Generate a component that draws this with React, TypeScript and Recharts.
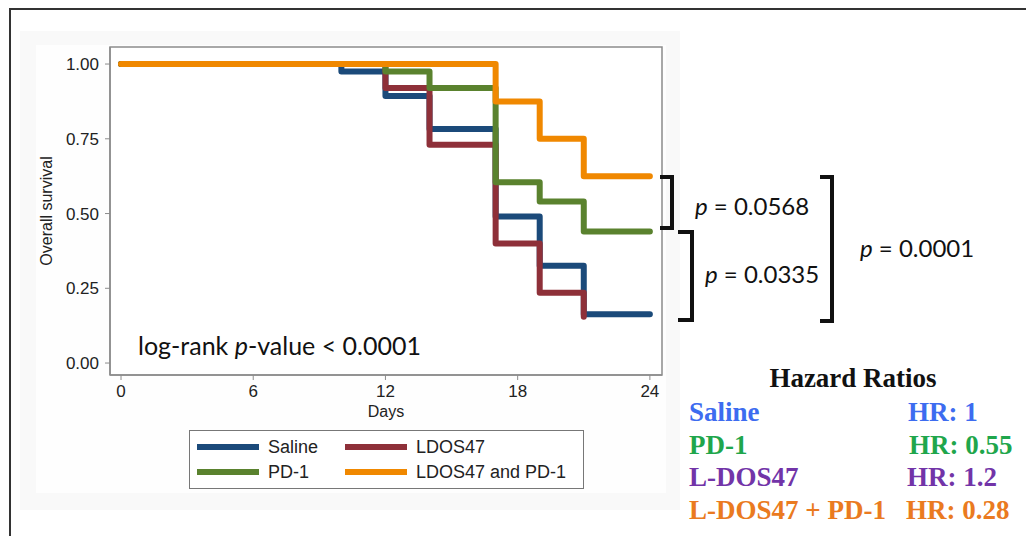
import React from "react";
import { LineChart, Line, XAxis, YAxis, ReferenceArea } from "recharts";

// ---- data (Kaplan-Meier step estimates) ----
const salineDays = [0, 10, 12, 14, 17, 19, 21, 24];
const salineSurv = [1, 0.975, 0.893, 0.783, 0.49, 0.325, 0.163, 0.163];
const ldosDays = [0, 12, 14, 17, 19, 21];
const ldosSurv = [1, 0.92, 0.73, 0.4, 0.235, 0.155];
const pd1Days = [0, 12, 14, 17, 19, 21, 24];
const pd1Surv = [1, 0.975, 0.92, 0.605, 0.54, 0.44, 0.44];
const comboDays = [0, 17, 19, 21, 24];
const comboSurv = [1, 0.875, 0.75, 0.625, 0.625];

const xTicks = [0, 6, 12, 18, 24];
const yTicks = [0, 0.25, 0.5, 0.75, 1];

const seriesNames = ["Saline", "LDOS47", "PD-1", "LDOS47 and PD-1"];
const seriesColors = ["#1b4a7a", "#8e3039", "#5a822e", "#f08800"];

const pValues = ["p = 0.0568", "p = 0.0335", "p = 0.0001"];
const hrGroups = ["Saline", "PD-1", "L-DOS47", "L-DOS47 + PD-1"];
const hrValues = ["HR: 1", "HR: 0.55", "HR: 1.2", "HR: 0.28"];
const hrColors = ["#3d6cf0", "#1fa64c", "#7234a8", "#ea7a20"];

const toRows = (days: number[], surv: number[]) =>
  days.map((t, i) => ({ t, s: surv[i] }));

const series = [
  toRows(salineDays, salineSurv),
  toRows(ldosDays, ldosSurv),
  toRows(pd1Days, pd1Surv),
  toRows(comboDays, comboSurv),
];

const axisGrey = "#8c8c8c";
const sans = "'Liberation Sans', Arial, sans-serif";
const hum = "Lato, 'Open Sans', sans-serif";
const serif = "'Liberation Serif', 'Times New Roman', serif";

const YLabel = (props: any) => {
  const vb = props.viewBox || {};
  return (
    <text
      transform={`translate(${vb.x - 4}, ${vb.y + vb.height / 2}) rotate(-90)`}
      textAnchor="middle"
      dominantBaseline="central"
      fontFamily={sans}
      fontSize={16}
      fill="#222"
    >
      Overall survival
    </text>
  );
};

const XLabel = (props: any) => {
  const vb = props.viewBox || {};
  return (
    <text
      x={vb.x + vb.width / 2}
      y={vb.y + 36}
      textAnchor="middle"
      dominantBaseline="central"
      fontFamily={sans}
      fontSize={16}
      fill="#222"
    >
      Days
    </text>
  );
};

export default function App() {
  return (
    <div
      style={{
        position: "relative",
        width: 1034,
        height: 544,
        margin: -8,
        background: "#fff",
        overflow: "hidden",
      }}
    >
      {/* outer frame (top + left edges visible) */}
      <div
        style={{
          position: "absolute",
          left: 9,
          top: 8,
          width: 1040,
          height: 560,
          borderLeft: "2px solid #333",
          borderTop: "2px solid #333",
        }}
      />
      {/* faint figure panels */}
      <div
        style={{
          position: "absolute",
          left: 20,
          top: 31,
          width: 660,
          height: 479,
          background: "#f9f9f9",
        }}
      />
      <div
        style={{
          position: "absolute",
          left: 36,
          top: 45,
          width: 630,
          height: 448,
          background: "#fefefe",
        }}
      />

      <div style={{ position: "absolute", left: 0, top: 0 }}>
        <LineChart
          width={700}
          height={520}
          margin={{ top: 47, right: 38, bottom: 115, left: 50 }}
        >
          <ReferenceArea
            x1={-0.5}
            x2={24.55}
            y1={-0.04}
            y2={1.057}
            fill="#ffffff"
            fillOpacity={1}
            stroke={axisGrey}
            strokeWidth={1.5}
            ifOverflow="visible"
          />
          <XAxis
            type="number"
            dataKey="t"
            domain={[-0.5, 24.55]}
            ticks={xTicks}
            allowDataOverflow
            height={30}
            tickSize={5}
            tickMargin={5}
            stroke={axisGrey}
            tick={{ fill: "#222", fontSize: 17, fontFamily: sans }}
            tickLine={{ stroke: axisGrey }}
            axisLine={{ stroke: axisGrey, strokeWidth: 1.5 }}
            label={<XLabel />}
          />
          <YAxis
            type="number"
            dataKey="s"
            domain={[-0.04, 1.057]}
            ticks={yTicks}
            allowDataOverflow
            width={60}
            tickSize={5}
            tickMargin={6}
            stroke={axisGrey}
            tickFormatter={(v: number) => v.toFixed(2)}
            tick={{ fill: "#222", fontSize: 17, fontFamily: sans }}
            tickLine={{ stroke: axisGrey }}
            axisLine={{ stroke: axisGrey, strokeWidth: 1.5 }}
            label={<YLabel />}
          />
          {series.map((d, i) => (
            <Line
              key={seriesNames[i]}
              data={d}
              dataKey="s"
              name={seriesNames[i]}
              type="stepAfter"
              stroke={seriesColors[i]}
              strokeWidth={6}
              strokeLinecap="round"
              strokeLinejoin="round"
              dot={false}
              activeDot={false}
              isAnimationActive={false}
            />
          ))}
        </LineChart>
      </div>

      {/* in-plot annotation */}
      <div
        style={{
          position: "absolute",
          left: 138,
          top: 330,
          fontFamily: hum,
          fontSize: 25,
          lineHeight: "30px",
          color: "#111",
          whiteSpace: "nowrap",
        }}
      >
        log-rank <i>p</i>-value &lt; 0.0001
      </div>

      {/* legend */}
      <div
        style={{
          position: "absolute",
          left: 189,
          top: 430,
          width: 395,
          height: 59,
          border: "1.5px solid #777",
          background: "#fff",
          boxSizing: "border-box",
        }}
      >
        {seriesNames.map((n, i) => {
          const col = i % 2;
          const row = Math.floor(i / 2);
          return (
            <div
              key={n}
              style={{
                position: "absolute",
                left: (col === 0 ? 8 : 156) - 1,
                top: (row === 0 ? 17 : 42) - 11 - 1,
                display: "flex",
                alignItems: "center",
                height: 22,
                whiteSpace: "nowrap",
              }}
            >
              <div
                style={{
                  width: 62,
                  height: 6,
                  background: seriesColors[i],
                  marginRight: 9,
                }}
              />
              <span style={{ fontFamily: sans, fontSize: 18, color: "#222" }}>
                {n}
              </span>
            </div>
          );
        })}
      </div>

      {/* comparison brackets */}
      <svg
        width={1034}
        height={544}
        style={{ position: "absolute", left: 0, top: 0 }}
      >
        <g fill="none" stroke="#111" strokeWidth={4}>
          <path d="M660,177 H672 V228 H660" />
          <path d="M678,232 H692 V320 H678" />
          <path d="M820,177 H832 V321 H820" />
        </g>
        <g fontFamily={hum} fontSize={24} fill="#111">
          <text x={695} y={205} dominantBaseline="central">
            <tspan fontStyle="italic">p</tspan>
            {pValues[0].slice(1)}
          </text>
          <text x={705} y={273} dominantBaseline="central">
            <tspan fontStyle="italic">p</tspan>
            {pValues[1].slice(1)}
          </text>
          <text x={860} y={247} dominantBaseline="central">
            <tspan fontStyle="italic">p</tspan>
            {pValues[2].slice(1)}
          </text>
        </g>
        <g fontFamily={serif} fontSize={27} fontWeight="bold">
          <text x={853} y={378} textAnchor="middle" dominantBaseline="central" fill="#111">
            Hazard Ratios
          </text>
          {hrGroups.map((g, i) => (
            <text
              key={g}
              x={689}
              y={412 + i * 32.7}
              dominantBaseline="central"
              fill={hrColors[i]}
            >
              {g}
            </text>
          ))}
          {hrValues.map((v, i) => (
            <text
              key={v}
              x={[908, 909, 907, 906][i]}
              y={412 + i * 32.7}
              dominantBaseline="central"
              fill={hrColors[i]}
            >
              {v}
            </text>
          ))}
        </g>
      </svg>
    </div>
  );
}
